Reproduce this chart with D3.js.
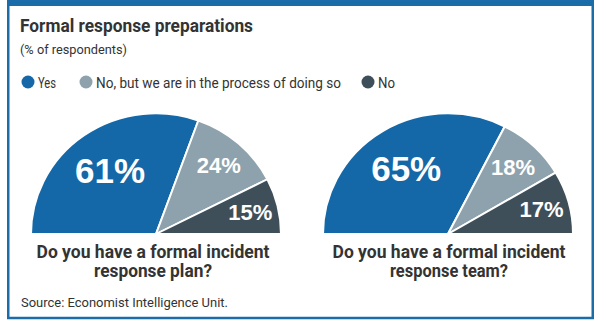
<!DOCTYPE html>
<html>
<head>
<meta charset="utf-8">
<script src="https://cdn.jsdelivr.net/npm/d3@7"></script>
<style>
html,body{margin:0;padding:0;background:#fff;}
svg{display:block;}
</style>
</head>
<body>
<svg id="c" width="600" height="325"></svg>
<script>
const categories = ["Yes", "No, but we are in the process of doing so", "No"];
const questions = [
  ["Do you have a formal incident", "response plan?"],
  ["Do you have a formal incident", "response team?"]
];
const planValues = [61, 24, 15];
const teamValues = [65, 18, 17];
const colors = ["#1468a8", "#8ea2ad", "#3e4f5a"];

const svg = d3.select("#c");
const FONT = "Roboto, 'Open Sans', sans-serif";
const txt = "#333";
const frame = "#1b6ca8";

// frame
svg.append("rect").attr("x", 7).attr("y", 0).attr("width", 587).attr("height", 6).attr("fill", frame);
svg.append("rect").attr("x", 8.25).attr("y", 1).attr("width", 584.5).attr("height", 317)
  .attr("fill", "none").attr("stroke", frame).attr("stroke-width", 2.5);

// title
svg.append("text").attr("x", 20).attr("y", 32).attr("font-family", FONT).attr("font-weight", 700)
  .attr("font-size", 18).attr("fill", txt).attr("textLength", 233).attr("lengthAdjust", "spacingAndGlyphs")
  .text("Formal response preparations");
svg.append("text").attr("x", 20).attr("y", 54).attr("font-family", FONT)
  .attr("font-size", 13).attr("fill", txt).attr("textLength", 107).attr("lengthAdjust", "spacingAndGlyphs")
  .text("(% of respondents)");

// legend
const legX = [28, 86, 368];
const legW = [18, 245, 17];
categories.forEach((c, i) => {
  svg.append("circle").attr("cx", legX[i]).attr("cy", 82).attr("r", 6.5).attr("fill", colors[i]);
  svg.append("text").attr("x", legX[i] + 10).attr("y", 87.5).attr("font-family", FONT)
    .attr("font-size", 14).attr("fill", txt).attr("textLength", legW[i]).attr("lengthAdjust", "spacingAndGlyphs")
    .text(c);
});

// pies
const pie = d3.pie().sort(null).startAngle(-Math.PI / 2).endAngle(Math.PI / 2);
const R = 125;
const arc = d3.arc().innerRadius(0).outerRadius(R);
const labelR = [80, 95, 97];
const labelSize = [35, 22, 22];

const charts = [
  {values: planValues, cx: 156, cy: 234, q: questions[0], qx: 153},
  {values: teamValues, cx: 448, cy: 234, q: questions[1], qx: 449}
];

charts.forEach(ch => {
  const g = svg.append("g").attr("transform", `translate(${ch.cx},${ch.cy})`);
  const gs = g.append("g").attr("transform", "scale(1,0.965)");
  const arcs = pie(ch.values);
  gs.selectAll("path").data(arcs).join("path")
    .attr("d", arc).attr("fill", (d, i) => colors[i])
    .attr("stroke", "#fff").attr("stroke-width", 2).attr("stroke-linejoin", "round");
  arcs.forEach((d, i) => {
    const a = (d.startAngle + d.endAngle) / 2;
    const x = labelR[i] * Math.sin(a);
    const y = -labelR[i] * Math.cos(a) * 0.965;
    g.append("text").attr("x", x).attr("y", y + labelSize[i] * 0.36)
      .attr("text-anchor", "middle").attr("font-family", "'Liberation Sans', Arial, sans-serif")
      .attr("font-weight", 700).attr("font-size", labelSize[i]).attr("fill", "#fff")
      .text(d.data + "%");
  });
  svg.append("text").attr("x", ch.qx).attr("y", 258).attr("text-anchor", "middle")
    .attr("font-family", FONT).attr("font-weight", 700).attr("font-size", 18).attr("fill", txt)
    .attr("textLength", 233).attr("lengthAdjust", "spacingAndGlyphs").text(ch.q[0]);
  svg.append("text").attr("x", ch.qx).attr("y", 277).attr("text-anchor", "middle")
    .attr("font-family", FONT).attr("font-weight", 700).attr("font-size", 18).attr("fill", txt)
    .attr("textLength", 118).attr("lengthAdjust", "spacingAndGlyphs").text(ch.q[1]);
});

// source
svg.append("text").attr("x", 21).attr("y", 307).attr("font-family", FONT)
  .attr("font-size", 13).attr("fill", txt).attr("textLength", 207).attr("lengthAdjust", "spacingAndGlyphs")
  .text("Source: Economist Intelligence Unit.");
</script>
</body>
</html>
